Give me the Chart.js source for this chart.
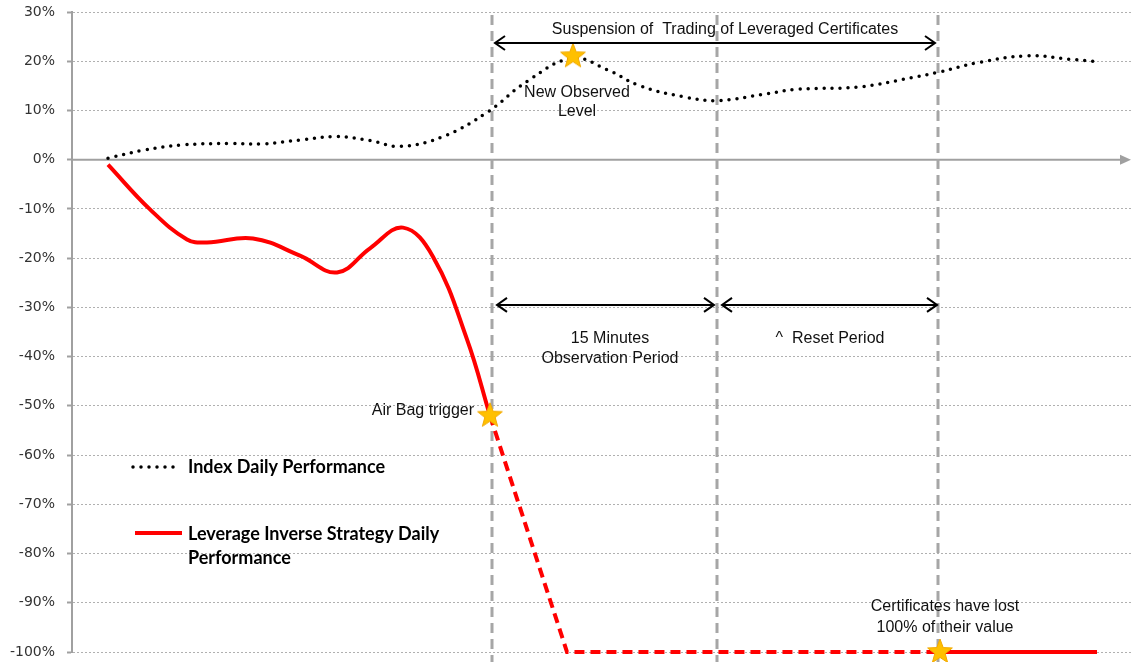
<!DOCTYPE html>
<html>
<head>
<meta charset="utf-8">
<script src="https://cdn.jsdelivr.net/npm/chart.js@4.4.1/dist/chart.umd.min.js"></script>
<style>
  html, body { margin: 0; padding: 0; background: #fff; overflow: hidden; }
  #wrap { width: 1131px; height: 662px; position: relative; }
  #perfChart { display: block; }
</style>
</head>
<body>
<div id="wrap"><canvas id="perfChart"></canvas></div>
<script>
// x is an unlabelled intraday time scale (0 .. 105.9)
const indexX = [3.6, 7.1, 11.1, 15.8, 19.1, 22.8, 26.5, 29.8, 32.8, 37.1, 41.5, 45.5, 50.0, 53.5, 56.8, 61.1, 64.5, 69.5, 72.5, 78.8, 84.1, 86.5, 90.8, 95.6, 99.8, 102.1];
const indexY = [0.3, 1.9, 3.0, 3.3, 3.2, 4.0, 4.7, 3.9, 2.7, 4.7, 9.6, 15.9, 20.6, 18.3, 15.0, 12.8, 12.0, 13.4, 14.3, 14.8, 16.7, 17.7, 19.8, 21.1, 20.4, 20.0];

const strategyX = [3.6, 7.8, 11.5, 13.5, 18.1, 22.8, 26.5, 29.8, 33.1, 36.1, 39.5, 41.8];
const strategyY = [-1, -10.1, -16.2, -16.8, -16, -19.5, -22.9, -18, -13.8, -19.7, -36.5, -52];

const suspendedX = [41.8, 49.5, 86.8];
const suspendedY = [-52, -100, -100];

const lostX = [86.8, 102.5];
const lostY = [-100, -100];

const starX = [50.1, 41.8, 86.8];
const starY = [21, -52, -100];

const phaseX = [42.0, 64.5, 86.6];   // trigger, end of observation, end of reset

const yMin = -100;
const yMax = 30;
const yStep = 10;

function zip(xs, ys) {
  return xs.map((x, i) => ({ x: x, y: ys[i] }));
}

function makeStar(r) {
  const c = document.createElement('canvas');
  c.width = c.height = r * 2 + 2;
  const g = c.getContext('2d');
  g.beginPath();
  for (let i = 0; i < 10; i++) {
    const rad = i % 2 === 0 ? r : r * 0.42;
    const a = -Math.PI / 2 + i * Math.PI / 5;
    const px = r + 1 + rad * Math.cos(a);
    const py = r + 1 + rad * Math.sin(a);
    if (i === 0) g.moveTo(px, py); else g.lineTo(px, py);
  }
  g.closePath();
  g.fillStyle = '#FFC000';
  g.fill();
  g.strokeStyle = '#F2A900';
  g.lineWidth = 1;
  g.stroke();
  return c;
}

const starImg = makeStar(13);

function arrowHead(ctx, x, y, dir) {
  ctx.beginPath();
  ctx.moveTo(x - dir * 10, y - 7);
  ctx.lineTo(x, y);
  ctx.lineTo(x - dir * 10, y + 7);
  ctx.stroke();
}

function doubleArrow(ctx, x1, x2, y) {
  ctx.beginPath();
  ctx.moveTo(x1, y);
  ctx.lineTo(x2, y);
  ctx.stroke();
  arrowHead(ctx, x1, y, -1);
  arrowHead(ctx, x2, y, 1);
}

const backdrop = {
  id: 'backdrop',
  beforeDatasetsDraw(chart) {
    const { ctx, chartArea, scales: { x, y } } = chart;
    ctx.save();
    // zero axis with arrow
    const y0 = y.getPixelForValue(0);
    ctx.strokeStyle = '#a0a0a0';
    ctx.fillStyle = '#a0a0a0';
    ctx.lineWidth = 2;
    ctx.beginPath();
    ctx.moveTo(chartArea.left, y0);
    ctx.lineTo(chartArea.right - 10, y0);
    ctx.stroke();
    ctx.beginPath();
    ctx.moveTo(chartArea.right, y0);
    ctx.lineTo(chartArea.right - 11, y0 - 5);
    ctx.lineTo(chartArea.right - 11, y0 + 5);
    ctx.closePath();
    ctx.fill();
    // phase markers
    ctx.strokeStyle = '#a6a6a6';
    ctx.lineWidth = 3;
    ctx.setLineDash([10, 6]);
    phaseX.forEach(v => {
      const px = x.getPixelForValue(v);
      ctx.beginPath();
      ctx.moveTo(px, chartArea.top + 3);
      ctx.lineTo(px, chart.height);
      ctx.stroke();
    });
    ctx.restore();
  },
  afterDatasetsDraw(chart) {
    const { ctx, chartArea, scales: { x, y } } = chart;
    const X = v => x.getPixelForValue(v);
    const Y = v => y.getPixelForValue(v);
    ctx.save();
    ctx.strokeStyle = '#000';
    ctx.lineWidth = 2;
    doubleArrow(ctx, X(phaseX[0]) + 3, X(phaseX[2]) - 3, Y(23.7));
    doubleArrow(ctx, X(42.5), X(64.2), Y(-29.5));
    doubleArrow(ctx, X(65.0), X(86.5), Y(-29.5));

    ctx.fillStyle = '#111';
    ctx.font = '16px "Liberation Sans", Arial, sans-serif';
    ctx.textBaseline = 'middle';
    ctx.textAlign = 'center';
    ctx.fillText('Suspension of  Trading of Leveraged Certificates', X(65.3), Y(26.4));
    ctx.fillText('New Observed', X(50.5), Y(13.7));
    ctx.fillText('Level', X(50.5), Y(9.7));
    ctx.fillText('15 Minutes', X(53.8), Y(-36.4));
    ctx.fillText('Observation Period', X(53.8), Y(-40.5));
    ctx.fillText('^  Reset Period', X(75.8), Y(-36.4));
    ctx.fillText('Certificates have lost', X(87.3), Y(-90.8));
    ctx.fillText('100% of their value', X(87.3), Y(-95.1));
    ctx.textAlign = 'right';
    ctx.fillText('Air Bag trigger', X(40.2), Y(-51.0));

    // legend
    const lx = chartArea.left + 61;
    ctx.textAlign = 'left';
    ctx.font = 'bold 18px Lato, "Open Sans", sans-serif';
    ctx.fillStyle = '#000';
    ctx.fillText('Index Daily Performance', lx + 55, 467);
    ctx.fillText('Leverage Inverse Strategy Daily', lx + 55, 534);
    ctx.fillText('Performance', lx + 55, 558);
    ctx.lineCap = 'round';
    ctx.lineWidth = 3.5;
    ctx.setLineDash([0, 8]);
    ctx.beginPath();
    ctx.moveTo(lx, 467);
    ctx.lineTo(lx + 46, 467);
    ctx.stroke();
    ctx.setLineDash([]);
    ctx.strokeStyle = '#ff0000';
    ctx.lineWidth = 4;
    ctx.lineCap = 'butt';
    ctx.beginPath();
    ctx.moveTo(lx + 2, 533);
    ctx.lineTo(lx + 49, 533);
    ctx.stroke();
    ctx.restore();
  }
};

const perfChart = new Chart(document.getElementById('perfChart'), {
  type: 'line',
  data: {
    datasets: [
      {
        label: 'Markers',
        data: zip(starX, starY),
        showLine: false,
        pointStyle: starImg,
        pointRadius: 13,
        clip: false,
        order: 0
      },
      {
        label: 'Index Daily Performance',
        data: zip(indexX, indexY),
        borderColor: '#000',
        borderWidth: 3.5,
        borderDash: [0, 8],
        borderCapStyle: 'round',
        tension: 0.4,
        pointRadius: 0,
        clip: false,
        order: 1
      },
      {
        label: 'Leverage Inverse Strategy Daily Performance',
        data: zip(strategyX, strategyY),
        borderColor: '#ff0000',
        borderWidth: 4,
        tension: 0.4,
        pointRadius: 0,
        clip: false,
        order: 1
      },
      {
        label: 'Suspended',
        data: zip(suspendedX, suspendedY),
        borderColor: '#ff0000',
        borderWidth: 4,
        borderDash: [10, 6],
        tension: 0,
        pointRadius: 0,
        clip: false,
        order: 1
      },
      {
        label: 'Lost',
        data: zip(lostX, lostY),
        borderColor: '#ff0000',
        borderWidth: 4,
        tension: 0,
        pointRadius: 0,
        clip: false,
        order: 1
      }
    ]
  },
  options: {
    responsive: true,
    maintainAspectRatio: false,
    animation: false,
    layout: {
      autoPadding: false,
      padding: { top: 12, bottom: 10, right: 0, left: 0 }
    },
    scales: {
      x: {
        type: 'linear',
        min: 0,
        max: 105.9,
        display: false
      },
      y: {
        min: yMin,
        max: yMax,
        afterFit: function (scale) {
          scale.width = 72;
          scale.paddingTop = 0;
          scale.paddingBottom = 0;
        },
        ticks: {
          stepSize: yStep,
          padding: 12,
          color: '#333',
          font: { family: '"DejaVu Sans", Verdana, sans-serif', size: 14 },
          callback: v => v + '%'
        },
        grid: {
          color: ctx => ctx.tick && ctx.tick.value === 0 ? 'rgba(0,0,0,0)' : '#b0b0b0',
          lineWidth: 1,
          tickLength: 5,
          tickColor: '#a0a0a0',
          tickBorderDash: [],
          tickWidth: 2
        },
        border: {
          display: true,
          color: '#a0a0a0',
          width: 2,
          dash: [2, 2]
        }
      }
    },
    plugins: {
      legend: { display: false },
      tooltip: { enabled: false }
    }
  },
  plugins: [backdrop]
});
</script>
</body>
</html>
